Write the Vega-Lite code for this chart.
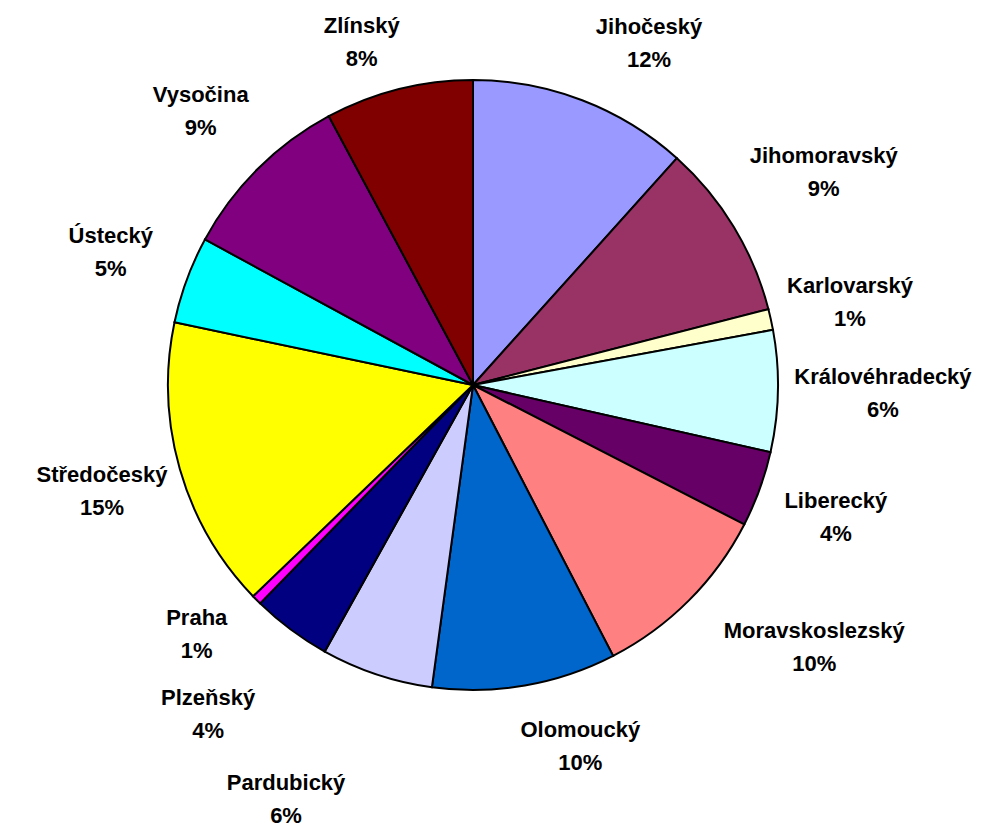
{
  "$schema": "https://vega.github.io/schema/vega-lite/v6.json",
  "width": 946,
  "height": 770,
  "autosize": {"type": "none"},
  "padding": {"left": 0, "top": 0, "right": 61, "bottom": 61},
  "background": "#ffffff",
  "config": {"view": {"stroke": null}, "text": {"font": "Liberation Sans", "fontWeight": "bold", "fontSize": 22, "fill": "#000000"}},
  "data": {
    "values": [
      {"i": 1, "region": "Jihočeský", "value": 0.116},
      {"i": 2, "region": "Jihomoravský", "value": 0.093},
      {"i": 3, "region": "Karlovarský", "value": 0.011},
      {"i": 4, "region": "Královéhradecký", "value": 0.064},
      {"i": 5, "region": "Liberecký", "value": 0.040},
      {"i": 6, "region": "Moravskoslezský", "value": 0.098},
      {"i": 7, "region": "Olomoucký", "value": 0.097},
      {"i": 8, "region": "Pardubický", "value": 0.059},
      {"i": 9, "region": "Plzeňský", "value": 0.042},
      {"i": 10, "region": "Praha", "value": 0.0052},
      {"i": 11, "region": "Středočeský", "value": 0.154},
      {"i": 12, "region": "Ústecký", "value": 0.046},
      {"i": 13, "region": "Vysočina", "value": 0.092},
      {"i": 14, "region": "Zlínský", "value": 0.078}
    ]
  },
  "encoding": {
    "theta": {"field": "value", "type": "quantitative", "stack": true},
    "order": {"field": "i", "type": "quantitative"},
    "detail": {"field": "region", "type": "nominal"}
  },
  "layer": [
    {
      "mark": {"type": "arc", "outerRadius": 305, "stroke": "#000000", "strokeWidth": 2},
      "encoding": {
        "color": {
          "field": "region",
          "type": "nominal",
          "legend": null,
          "scale": {
            "domain": ["Jihočeský", "Jihomoravský", "Karlovarský", "Královéhradecký", "Liberecký", "Moravskoslezský", "Olomoucký", "Pardubický", "Plzeňský", "Praha", "Středočeský", "Ústecký", "Vysočina", "Zlínský"],
            "range": ["#9999FF", "#993366", "#FFFFCC", "#CCFFFF", "#660066", "#FF8080", "#0066CC", "#CCCCFF", "#000080", "#FF00FF", "#FFFF00", "#00FFFF", "#800080", "#800000"]
          }
        }
      }
    },
    {
      "mark": {"type": "text", "radius": 354, "dx": -25, "dy": -16},
      "encoding": {
        "text": {"field": "region", "type": "nominal"},
        "opacity": {"condition": {"test": "indexof(['Zlínský','Praha'], datum.region) >= 0", "value": 1}, "value": 0}
      }
    },
    {
      "mark": {"type": "text", "radius": 354, "dx": -25, "dy": 17},
      "encoding": {
        "text": {"field": "value", "type": "quantitative", "format": ".0%"},
        "opacity": {"condition": {"test": "indexof(['Zlínský','Praha'], datum.region) >= 0", "value": 1}, "value": 0}
      }
    },
    {
      "mark": {"type": "text", "radius": 366, "dx": 45, "dy": -16},
      "encoding": {
        "text": {"field": "region", "type": "nominal"},
        "opacity": {"condition": {"test": "indexof(['Jihočeský','Olomoucký'], datum.region) >= 0", "value": 1}, "value": 0}
      }
    },
    {
      "mark": {"type": "text", "radius": 366, "dx": 45, "dy": 17},
      "encoding": {
        "text": {"field": "value", "type": "quantitative", "format": ".0%"},
        "opacity": {"condition": {"test": "indexof(['Jihočeský','Olomoucký'], datum.region) >= 0", "value": 1}, "value": 0}
      }
    },
    {
      "mark": {"type": "text", "radius": 386, "dy": -16},
      "encoding": {
        "text": {"field": "region", "type": "nominal"},
        "opacity": {"condition": {"test": "indexof(['Ústecký','Vysočina','Karlovarský','Středočeský','Liberecký'], datum.region) >= 0", "value": 1}, "value": 0}
      }
    },
    {
      "mark": {"type": "text", "radius": 386, "dy": 17},
      "encoding": {
        "text": {"field": "value", "type": "quantitative", "format": ".0%"},
        "opacity": {"condition": {"test": "indexof(['Ústecký','Vysočina','Karlovarský','Středočeský','Liberecký'], datum.region) >= 0", "value": 1}, "value": 0}
      }
    },
    {
      "mark": {"type": "text", "radius": 410, "dy": -16},
      "encoding": {
        "text": {"field": "region", "type": "nominal"},
        "opacity": {"condition": {"test": "indexof(['Jihomoravský','Královéhradecký'], datum.region) >= 0", "value": 1}, "value": 0}
      }
    },
    {
      "mark": {"type": "text", "radius": 410, "dy": 17},
      "encoding": {
        "text": {"field": "value", "type": "quantitative", "format": ".0%"},
        "opacity": {"condition": {"test": "indexof(['Jihomoravský','Královéhradecký'], datum.region) >= 0", "value": 1}, "value": 0}
      }
    },
    {
      "mark": {"type": "text", "radius": 410, "dx": -20, "dy": -16},
      "encoding": {
        "text": {"field": "region", "type": "nominal"},
        "opacity": {"condition": {"test": "datum.region === 'Plzeňský'", "value": 1}, "value": 0}
      }
    },
    {
      "mark": {"type": "text", "radius": 410, "dx": -20, "dy": 17},
      "encoding": {
        "text": {"field": "value", "type": "quantitative", "format": ".0%"},
        "opacity": {"condition": {"test": "datum.region === 'Plzeňský'", "value": 1}, "value": 0}
      }
    },
    {
      "mark": {"type": "text", "radius": 410, "dx": 51, "dy": -44},
      "encoding": {
        "text": {"field": "region", "type": "nominal"},
        "opacity": {"condition": {"test": "datum.region === 'Moravskoslezský'", "value": 1}, "value": 0}
      }
    },
    {
      "mark": {"type": "text", "radius": 410, "dx": 51, "dy": -11},
      "encoding": {
        "text": {"field": "value", "type": "quantitative", "format": ".0%"},
        "opacity": {"condition": {"test": "datum.region === 'Moravskoslezský'", "value": 1}, "value": 0}
      }
    },
    {
      "mark": {"type": "text", "radius": 440, "dx": -48, "dy": -19},
      "encoding": {
        "text": {"field": "region", "type": "nominal"},
        "opacity": {"condition": {"test": "datum.region === 'Pardubický'", "value": 1}, "value": 0}
      }
    },
    {
      "mark": {"type": "text", "radius": 440, "dx": -48, "dy": 14},
      "encoding": {
        "text": {"field": "value", "type": "quantitative", "format": ".0%"},
        "opacity": {"condition": {"test": "datum.region === 'Pardubický'", "value": 1}, "value": 0}
      }
    }
  ]
}
